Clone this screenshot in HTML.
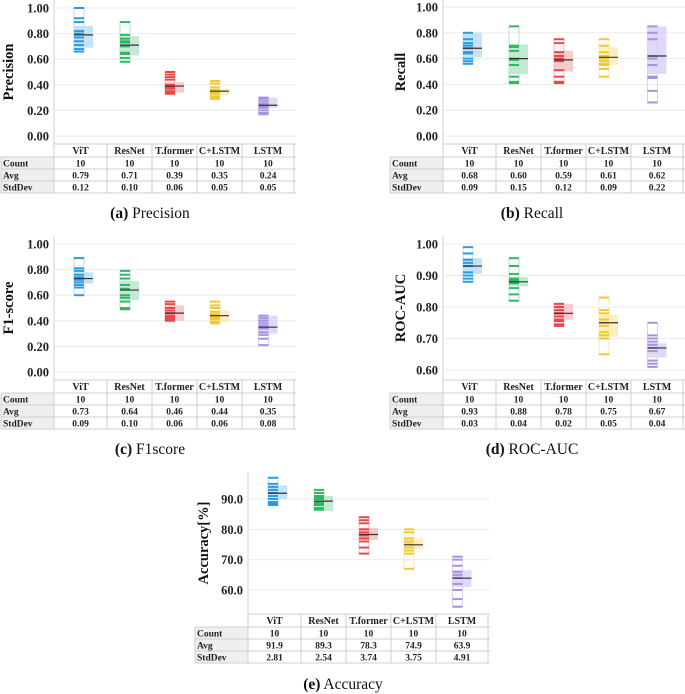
<!DOCTYPE html>
<html><head><meta charset="utf-8">
<style>
html,body{margin:0;padding:0;background:#fff;}
svg{display:block;font-family:"Liberation Serif",serif;}
svg text{font-family:"Liberation Serif",serif;}
</style></head>
<body>
<svg id="fig" width="685" height="694" viewBox="0 0 685 694" xmlns="http://www.w3.org/2000/svg"></svg>
<script>
const categories = ["ViT","ResNet","T.former","C+LSTM","LSTM"];
const colors = ["#2b9be3","#2fb764","#e8484d","#f0c832","#a791e0"];
const lightColors = ["#bfe0f7","#bfe8cf","#f7c4c6","#fbedb8","#ddd4f5"];

const precisionValues = [[1.00,0.92,0.89,0.82,0.80,0.77,0.74,0.71,0.68,0.66],[0.89,0.79,0.76,0.74,0.73,0.70,0.65,0.64,0.61,0.58],[0.50,0.48,0.46,0.44,0.40,0.38,0.37,0.35,0.34,0.33],[0.43,0.41,0.38,0.36,0.35,0.34,0.33,0.31,0.30,0.29],[0.30,0.29,0.27,0.25,0.24,0.23,0.22,0.20,0.18,0.17]];
const precisionBoxLow = [0.69,0.63,0.34,0.32,0.22];
const precisionBoxHigh = [0.86,0.78,0.42,0.37,0.30];
const precisionAvg = ["0.79","0.71","0.39","0.35","0.24"];
const precisionStd = ["0.12","0.10","0.06","0.05","0.05"];
const precisionTicks = ["0.00","0.20","0.40","0.60","0.80","1.00"];

const recallValues = [[0.80,0.75,0.72,0.70,0.68,0.65,0.64,0.60,0.58,0.56],[0.85,0.70,0.69,0.66,0.60,0.59,0.55,0.46,0.42,0.41],[0.75,0.72,0.65,0.62,0.60,0.58,0.51,0.46,0.42,0.41],[0.75,0.70,0.65,0.62,0.60,0.58,0.56,0.55,0.52,0.46],[0.85,0.80,0.75,0.62,0.60,0.55,0.46,0.45,0.35,0.26]];
const recallBoxLow = [0.61,0.48,0.50,0.55,0.48];
const recallBoxHigh = [0.80,0.71,0.66,0.69,0.85];
const recallAvg = ["0.68","0.60","0.59","0.61","0.62"];
const recallStd = ["0.09","0.15","0.12","0.09","0.22"];
const recallTicks = ["0.00","0.20","0.40","0.60","0.80","1.00"];

const f1Values = [[0.89,0.81,0.79,0.76,0.74,0.72,0.70,0.68,0.66,0.60],[0.79,0.76,0.73,0.68,0.65,0.60,0.58,0.55,0.50,0.49],[0.55,0.53,0.50,0.48,0.46,0.44,0.43,0.42,0.41,0.40],[0.55,0.52,0.50,0.47,0.45,0.43,0.42,0.41,0.39,0.38],[0.44,0.42,0.40,0.38,0.36,0.34,0.31,0.29,0.26,0.21]];
const f1BoxLow = [0.69,0.56,0.40,0.39,0.30];
const f1BoxHigh = [0.78,0.71,0.52,0.48,0.44];
const f1Avg = ["0.73","0.64","0.46","0.44","0.35"];
const f1Std = ["0.09","0.10","0.06","0.06","0.08"];
const f1Ticks = ["0.00","0.20","0.40","0.60","0.80","1.00"];

const rocValues = [[0.99,0.97,0.95,0.94,0.93,0.93,0.91,0.90,0.89,0.88],[0.955,0.93,0.905,0.89,0.885,0.88,0.875,0.86,0.84,0.82],[0.81,0.80,0.79,0.78,0.78,0.77,0.76,0.755,0.745,0.74],[0.83,0.79,0.78,0.76,0.75,0.74,0.72,0.71,0.70,0.65],[0.75,0.71,0.70,0.69,0.68,0.67,0.66,0.63,0.62,0.61]];
const rocBoxLow = [0.905,0.865,0.76,0.705,0.64];
const rocBoxHigh = [0.955,0.895,0.81,0.775,0.685];
const rocAvg = ["0.93","0.88","0.78","0.75","0.67"];
const rocStd = ["0.03","0.04","0.02","0.05","0.04"];
const rocTicks = ["0.60","0.70","0.80","0.90","1.00"];

const accValues = [[97,95,94,93,92,91,90,89,88.5,88],[93,92,91,90.5,90,89,88.5,88,87,86.5],[84,83,82,80,79,78,77,76,74,72],[80,79,77,76,75,75,74,73,72,67],[71,70,68,66,65,64,62,60,57,54.5]];
const accBoxLow = [90,86,76.5,73.5,61];
const accBoxHigh = [94.5,91,80.5,77,66.5];
const accAvg = ["91.9","89.3","78.3","74.9","63.9"];
const accStd = ["2.81","2.54","3.74","3.75","4.91"];
const accTicks = ["60.0","70.0","80.0","90.0"];

const NS = "http://www.w3.org/2000/svg";
const svg = document.getElementById("fig");
function mk(tag, attrs, parent, text){
  const e = document.createElementNS(NS, tag);
  for (const k in attrs) e.setAttribute(k, attrs[k]);
  if (text !== undefined) e.textContent = text;
  (parent || svg).appendChild(e);
  return e;
}
const colEdges = [0,53,98,143,188,240];
const FF = '"Liberation Serif", serif';

function panel(p){
  const g = mk("g", {});
  
  
  const L = p.tableLeft, PL = L + 53, PR = L + 295;
  const y = v => p.yTop + (p.vMax - v) / (p.vMax - p.vMin) * (p.yBot - p.yTop);
  const ax = mk("line", {x1:PL, x2:PL, y1:p.plotTop, y2:p.headTop, stroke:"#d0d0d0", "stroke-width":1}, g);
  
  
  p.ticks.forEach(t => {
    const v = parseFloat(t), yy = y(v);
    const gl = mk("line", {x1:PL, x2:PR, y1:yy, y2:yy, stroke:"#ebebeb", "stroke-width":1}, g);
    
    
    const tl = mk("text", {x:PL-5, y:yy+4.5, "text-anchor":"end", "font-size":"12.5", "font-weight":"bold", fill:"#222", "font-family":FF}, g, t);
    
    
  });
  const tx = p.titleX, ty = (p.plotTop + p.headTop) / 2;
  const title = mk("text", {x:tx, y:ty, "text-anchor":"middle", "font-size":"14.5", "font-weight":"bold", fill:"#111", "font-family":FF, transform:`rotate(-90 ${tx} ${ty})`}, g, p.title);
  
  
  categories.forEach((c, i) => {
    const cx = PL + (colEdges[i] + colEdges[i+1]) / 2 + (i === 0 ? 3 : 0);
    const vals = p.values[i];
    const mn = Math.min(...vals), mx = Math.max(...vals);
    const cg = mk("g", {}, g);
    
    
    const box = mk("rect", {x:cx-9.5, y:y(p.boxHigh[i]), width:19, height:y(p.boxLow[i])-y(p.boxHigh[i]), fill:lightColors[i], opacity:0.9}, cg);
    
    
    const out = mk("rect", {x:cx-9.5, y:y(mx), width:10, height:y(mn)-y(mx), fill:"none", stroke:lightColors[i], "stroke-width":1.2}, cg);
    
    
    vals.forEach(v => {
      const pt = mk("line", {x1:cx-9.5, x2:cx+0.5, y1:y(v), y2:y(v), stroke:colors[i], "stroke-width":2}, cg);
      
      
    });
    const avg = parseFloat(p.avg[i]);
    const ml = mk("line", {x1:cx-9.5, x2:cx+9.5, y1:y(avg), y2:y(avg), stroke:"#333", "stroke-width":1.2}, cg);
    
    
  });
  const rows = [p.headTop, p.headTop+13, p.headTop+25, p.headTop+37, p.headTop+49];
  const tg = mk("g", {}, g);
  
  
  for (let r = 1; r < 4; r++) mk("rect", {x:L, y:rows[r], width:53, height:rows[r+1]-rows[r], fill:"#efefef"}, tg);
  mk("line", {x1:PL, x2:PR, y1:rows[0], y2:rows[0], stroke:"#cfcfcf"}, tg);
  for (let r = 1; r < 5; r++) mk("line", {x1:L, x2:PR, y1:rows[r], y2:rows[r], stroke:"#cfcfcf"}, tg);
  colEdges.forEach(e => mk("line", {x1:L+53+e, x2:L+53+e, y1:rows[0], y2:rows[4], stroke:"#cfcfcf"}, tg));
  mk("line", {x1:L, x2:L, y1:rows[1], y2:rows[4], stroke:"#cfcfcf"}, tg);
  ["Count","Avg","StdDev"].forEach((lab, r) => {
    const t = mk("text", {x:L+2, y:rows[r+1]+9.5, "font-size":"9.5", "font-weight":"bold", fill:"#222", "font-family":FF}, tg, lab);
    
    
  });
  categories.forEach((c, i) => {
    const cx = PL + (colEdges[i] + colEdges[i+1]) / 2;
    const h = mk("text", {x:cx, y:rows[0]+10, "text-anchor":"middle", "font-size":"10", "font-weight":"bold", fill:"#222", "font-family":FF}, tg, c);
    
    
    [ "10", p.avg[i], p.std[i] ].forEach((v, r) => {
      const t = mk("text", {x:cx, y:rows[r+1]+9.5, "text-anchor":"middle", "font-size":"9.5", "font-weight":"bold", fill:"#222", "font-family":FF}, tg, v);
      
      
    });
  });
  const cap = mk("text", {x:p.capX, y:p.capY, "text-anchor":"middle", "font-size":"15.5", fill:"#111", "font-family":FF}, g);
  mk("tspan", {"font-weight":"bold", "font-family":FF}, cap, p.capTag);
  mk("tspan", {"font-family":FF}, cap, " " + p.capText);
  
  
}

panel({name:"precision", tableLeft:1, yTop:8, yBot:136, vMin:0, vMax:1, plotTop:0, headTop:144, titleX:13, title:"Precision",
  ticks:precisionTicks, values:precisionValues, boxLow:precisionBoxLow, boxHigh:precisionBoxHigh, avg:precisionAvg, std:precisionStd,
  capX:150, capY:218, capTag:"(a)", capText:"Precision"});
panel({name:"recall", tableLeft:390, yTop:7, yBot:136, vMin:0, vMax:1, plotTop:0, headTop:144, titleX:405, title:"Recall",
  ticks:recallTicks, values:recallValues, boxLow:recallBoxLow, boxHigh:recallBoxHigh, avg:recallAvg, std:recallStd,
  capX:532, capY:218, capTag:"(b)", capText:"Recall"});
panel({name:"f1score", tableLeft:1, yTop:244, yBot:372, vMin:0, vMax:1, plotTop:236, headTop:380, titleX:13, title:"F1-score",
  ticks:f1Ticks, values:f1Values, boxLow:f1BoxLow, boxHigh:f1BoxHigh, avg:f1Avg, std:f1Std,
  capX:150, capY:454, capTag:"(c)", capText:"F1score"});
panel({name:"rocauc", tableLeft:390, yTop:244, yBot:370, vMin:0.6, vMax:1, plotTop:236, headTop:380, titleX:405, title:"ROC-AUC",
  ticks:rocTicks, values:rocValues, boxLow:rocBoxLow, boxHigh:rocBoxHigh, avg:rocAvg, std:rocStd,
  capX:532, capY:454, capTag:"(d)", capText:"ROC-AUC"});
panel({name:"accuracy", tableLeft:195, yTop:499, yBot:590, vMin:60, vMax:90, plotTop:472, headTop:614, titleX:208, title:"Accuracy[%]",
  ticks:accTicks, values:accValues, boxLow:accBoxLow, boxHigh:accBoxHigh, avg:accAvg, std:accStd,
  capX:343, capY:689, capTag:"(e)", capText:"Accuracy"});
</script>
</body></html>
